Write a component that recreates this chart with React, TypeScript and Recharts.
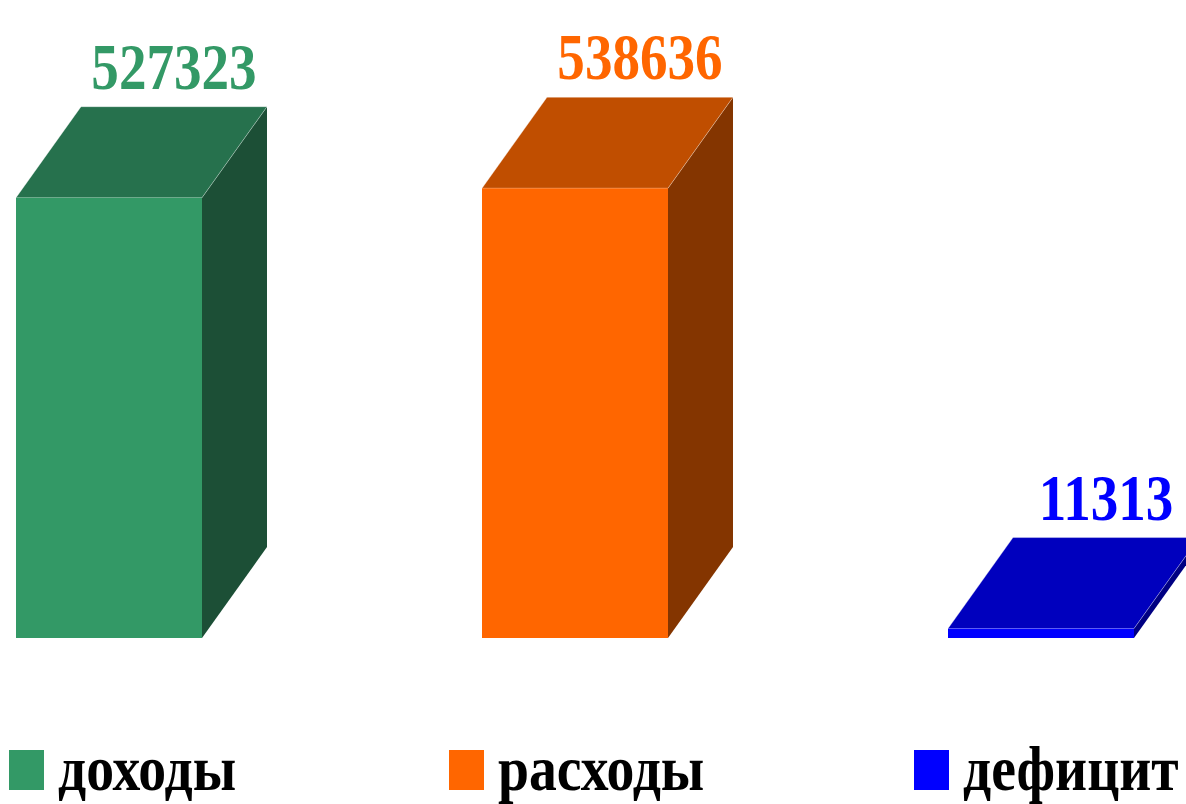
import { BarChart, Bar, XAxis, YAxis, LabelList } from 'recharts'

const CATEGORIES = ['доходы', 'расходы', 'дефицит']
const VALUES = [527323, 538636, 11313]

// face shades: front, top, side
const FRONT = ['#339966', '#FF6600', '#0000FF']
const TOP = ['#26714D', '#C04E00', '#0000BE']
const SIDE = ['#1C4F36', '#843500', '#000082']

const DX = 65
const DY = -91
const SQUEEZE = 0.835
const LEGEND_X = [9, 449, 914]

const data = CATEGORIES.map((name, i) => ({ name, value: VALUES[i] }))

function Box(props: any) {
  const { x, y, width: w, height: h, index } = props
  const i = index ?? 0
  return (
    <g>
      <polygon
        points={`${x + w},${y} ${x + w + DX},${y + DY} ${x + w + DX},${y + h + DY} ${x + w},${y + h}`}
        fill={SIDE[i]}
      />
      <polygon
        points={`${x},${y} ${x + DX},${y + DY} ${x + w + DX},${y + DY} ${x + w},${y}`}
        fill={TOP[i]}
        stroke="rgba(255,255,255,0.35)"
        strokeWidth={1}
      />
      <rect x={x} y={y} width={w} height={h} fill={FRONT[i]} />
    </g>
  )
}

function TopLabel(props: any) {
  const { x, y, width, value, index } = props
  const cx = x + width / 2 + DX
  const cy = y + DY - 18
  return (
    <text
      transform={`translate(${cx},${cy}) scale(${SQUEEZE},1)`}
      textAnchor="middle"
      fontFamily="'Liberation Serif', 'Times New Roman', serif"
      fontWeight="bold"
      fontSize={66}
      fill={FRONT[index]}
    >
      {value}
    </text>
  )
}

export default function App() {
  return (
    <div style={{ position: 'absolute', left: 0, top: 0, width: 1186, height: 804, overflow: 'hidden', background: '#fff' }}>
      <div style={{ position: 'absolute', left: -124, top: 0 }}>
        <BarChart width={1398} height={804} data={data} margin={{ top: 137, right: 0, bottom: 166, left: 0 }} barSize={186}>
          <XAxis dataKey="name" hide />
          <YAxis hide domain={[0, 600000]} />
          <Bar dataKey="value" shape={<Box />} isAnimationActive={false}>
            <LabelList dataKey="value" content={<TopLabel />} />
          </Bar>
        </BarChart>
      </div>
      <svg width={1186} height={804} style={{ position: 'absolute', left: 0, top: 0, pointerEvents: 'none' }}>
        {CATEGORIES.map((name, i) => (
          <g key={name}>
            <rect x={LEGEND_X[i]} y={750} width={35} height={40} fill={FRONT[i]} />
            <text
              transform={`translate(${LEGEND_X[i] + 49},790) scale(0.87,1)`}
              fontFamily="'Liberation Serif', 'Times New Roman', serif"
              fontWeight="bold"
              fontSize={64}
              fill="#000"
            >
              {name}
            </text>
          </g>
        ))}
      </svg>
    </div>
  )
}
